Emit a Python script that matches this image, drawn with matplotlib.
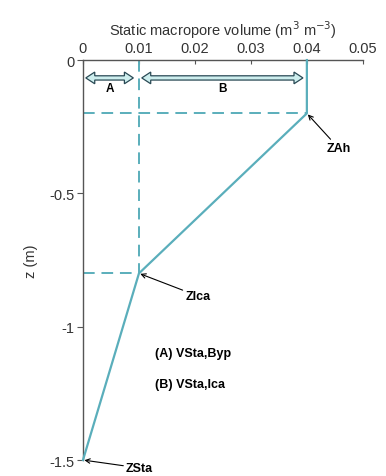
import matplotlib
matplotlib.use("Agg")
import matplotlib.pyplot as plt
from matplotlib.patches import Polygon

plt.rcParams['font.family'] = ['Liberation Sans', 'DejaVu Sans']

# data
profile_x = [0.04, 0.04, 0.01, 0.0]
profile_z = [0.0, -0.2, -0.8, -1.5]
v_byp = 0.01
v_total = 0.04
z_ah = -0.2
z_ica = -0.8
z_sta = -1.5
xticks = [0, 0.01, 0.02, 0.03, 0.04, 0.05]
xticklabels = ['0', '0.01', '0.02', '0.03', '0.04', '0.05']
yticks = [0, -0.5, -1, -1.5]
yticklabels = ['0', '-0.5', '-1', '-1.5']

teal = '#5aaebb'

fig = plt.figure(figsize=(3.86, 4.77), dpi=100)
ax = fig.add_axes([0.215, 0.0335, 0.725, 0.8385])
ax.set_xlim(0, 0.05)
ax.set_ylim(-1.5, 0)

dash = (0, (6, 3.5))
ax.plot(profile_x, profile_z, color=teal, lw=1.6, clip_on=False, zorder=3)
ax.plot([0, v_total], [z_ah, z_ah], color=teal, lw=1.4, ls=dash)
ax.plot([v_byp, v_byp], [0, z_ica], color=teal, lw=1.4, ls=dash)
ax.plot([0, v_byp], [z_ica, z_ica], color=teal, lw=1.4, ls=dash)

for s in ['right', 'bottom']:
    ax.spines[s].set_visible(False)
for s in ['left', 'top']:
    ax.spines[s].set_color('#555555')
    ax.spines[s].set_linewidth(1.0)

ax.xaxis.set_ticks_position('top')
ax.xaxis.set_label_position('top')
ax.set_xticks(xticks)
ax.set_xticklabels(xticklabels)
ax.set_yticks(yticks)
ax.set_yticklabels(yticklabels)
ax.tick_params(axis='both', labelsize=10.5, colors='#555555', labelcolor='#333333',
               length=4, direction='out', pad=2)
ax.tick_params(axis='x', direction='in', length=3, pad=4)
ax.set_xlabel('Static macropore volume (m$^3$ m$^{-3}$)', fontsize=10.5, color='#333333', labelpad=4)
ax.set_ylabel('z (m)', fontsize=10.5, color='#333333', labelpad=8)


def darrow(x0, x1, y):
    hl = 0.0016
    hw = 0.022
    sw = 0.008
    pts = [(x0, y), (x0 + hl, y + hw), (x0 + hl, y + sw), (x1 - hl, y + sw),
           (x1 - hl, y + hw), (x1, y), (x1 - hl, y - hw), (x1 - hl, y - sw),
           (x0 + hl, y - sw), (x0 + hl, y - hw)]
    ax.add_patch(Polygon(pts, closed=True, facecolor='#cdeeee', edgecolor='#2a4a55', lw=0.9, zorder=4))


arrow_y = -0.067
darrow(0.0005, 0.009, arrow_y)
darrow(0.0105, 0.0393, arrow_y)
ax.text((0.0005 + 0.009) / 2, -0.105, 'A', fontsize=8.5, fontweight='bold', ha='center', va='center')
ax.text((0.0105 + 0.0393) / 2, -0.105, 'B', fontsize=8.5, fontweight='bold', ha='center', va='center')

akw = dict(arrowstyle='->', color='black', lw=0.8, shrinkA=0, shrinkB=1, mutation_scale=8)
ax.annotate('ZAh', xy=(v_total, z_ah), xytext=(0.0435, -0.33), fontsize=9, fontweight='bold',
            ha='left', va='center', arrowprops=akw, annotation_clip=False)
ax.annotate('ZIca', xy=(v_byp, z_ica), xytext=(0.0183, -0.885), fontsize=9, fontweight='bold',
            ha='left', va='center', arrowprops=akw, annotation_clip=False)
ax.annotate('ZSta', xy=(0.0, z_sta), xytext=(0.0077, -1.53), fontsize=9, fontweight='bold',
            ha='left', va='center', arrowprops=akw, annotation_clip=False)

ax.text(0.0128, -1.10, '(A) VSta,Byp', fontsize=9, fontweight='bold', ha='left', va='center')
ax.text(0.0128, -1.215, '(B) VSta,Ica', fontsize=9, fontweight='bold', ha='left', va='center')

fig.savefig('out.png', dpi=100)
